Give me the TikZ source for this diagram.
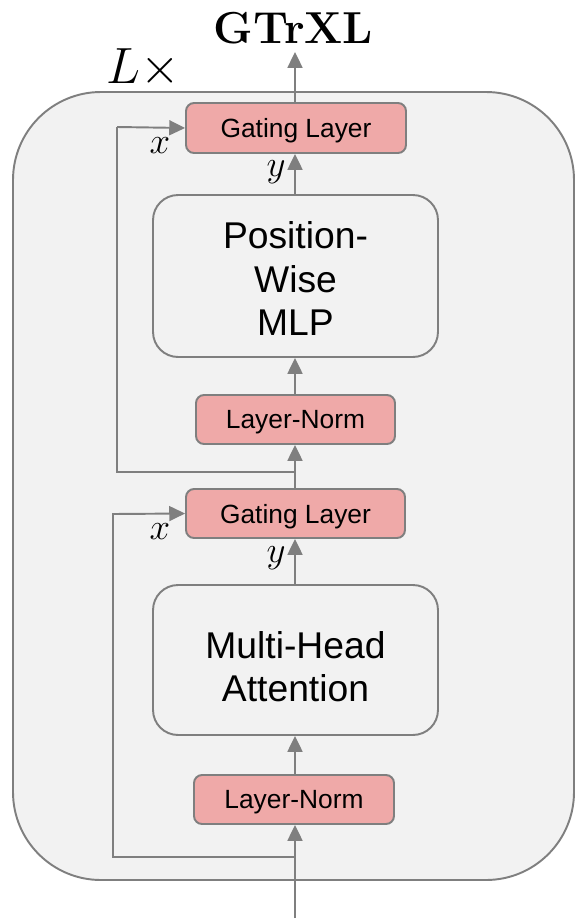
\RequirePackage{fix-cm}
\documentclass[tikz,border=0pt]{standalone}
\usepackage{fontspec}
\setsansfont{Liberation Sans}
\usetikzlibrary{arrows.meta}
\definecolor{edge}{HTML}{7F7F7F}
\definecolor{panel}{HTML}{F2F2F2}
\definecolor{gatepink}{HTML}{EFA9A8}
% lower the ink of a box without changing its reported size
\newcommand{\lowerby}[2]{\raisebox{-#1}[\height][\depth]{#2}}
\newcommand{\stacked}[1]{\begin{tabular}{@{}c@{}}#1\end{tabular}}
\tikzset{
  px/.style={x=0.02cm,y=-0.02cm},
  conn/.style={draw=edge,line width=1.1pt},
  arr/.style={conn,-{Triangle[width=8.5pt,length=9pt]}},
  pinkbox/.style={draw=edge,line width=1.1pt,fill=gatepink,rounded corners=0.16cm,
    inner sep=0pt,font=\sffamily\fontsize{15}{18}\selectfont},
  bigbox/.style={draw=edge,line width=1.1pt,fill=panel,rounded corners=0.5cm,
    inner sep=0pt,font=\sffamily\fontsize{21.2}{24.8}\selectfont},
  varlabel/.style={font=\fontsize{21}{24}\selectfont},
}
\begin{document}
\begin{tikzpicture}[px]
  \useasboundingbox (0,0) rectangle (577,923);
  % the repeated block
  \draw[draw=edge,line width=1.1pt,fill=panel,rounded corners=1.76cm] (13,92) rectangle (574,880);

  % layers, bottom to top
  \node[pinkbox,minimum width=4.0cm,minimum height=0.98cm] (lnB) at (294,799.5) {\lowerby{1.6pt}{Layer-Norm}};
  \node[bigbox,minimum width=5.7cm,minimum height=3.0cm] (mha) at (295.5,660) {\lowerby{6.3pt}{\stacked{Multi-Head\\Attention}}};
  \node[pinkbox,minimum width=4.38cm,minimum height=0.98cm] (gB) at (295.5,513.5) {\lowerby{1.8pt}{Gating Layer}};
  \node[pinkbox,minimum width=3.98cm,minimum height=0.98cm] (lnT) at (295.5,419.5) {\lowerby{1.6pt}{Layer-Norm}};
  \node[bigbox,minimum width=5.7cm,minimum height=3.24cm] (mlp) at (295.5,276) {\lowerby{4.3pt}{\stacked{Position-\\Wise\\MLP}}};
  \node[pinkbox,minimum width=4.4cm,minimum height=1.0cm] (gT) at (296,128) {\lowerby{1.8pt}{Gating Layer}};

  % titles
  \node[font=\bfseries\fontsize{25.5}{28}\selectfont] (title) at (293.5,28) {GTrXL};
  \node[font=\fontsize{29}{32}\selectfont] (rep) at (143,68) {$L\times$};

  % input, junctions and output
  \coordinate (in) at (295,918);
  \coordinate (j1) at (295,857);
  \coordinate (j2) at (295,472);
  \coordinate (out) at (295,52);

  % main data path
  \draw[arr] (in) -- (lnB.south -| j1);
  \draw[arr] (lnB.north -| j1) -- (mha.south -| j1);
  \draw[arr] (mha.north -| j1) -- (gB.south -| j1);
  \draw[arr] (gB.north -| j1) -- (lnT.south -| j1);
  \draw[arr] (lnT.north -| j1) -- (mlp.south -| j1);
  \draw[arr] (mlp.north -| j1) -- (gT.south -| j1);
  \draw[arr] (gT.north -| j1) -- (out);

  % residual paths into the gates
  \draw[arr] (j1) -- (113,857) -- (113,514) -- (gB.west);
  \draw[conn] (j2) -- (117,472) -- (117,127);
  \draw[arr] (117,127) -- (gT.west);

  % gate input labels
  \node[varlabel] (xT) at (160,146) {$x$};
  \node[varlabel] (yT) at (276,172) {$y$};
  \node[varlabel] (xB) at (160,532) {$x$};
  \node[varlabel] (yB) at (276,558) {$y$};
\end{tikzpicture}
\end{document}
